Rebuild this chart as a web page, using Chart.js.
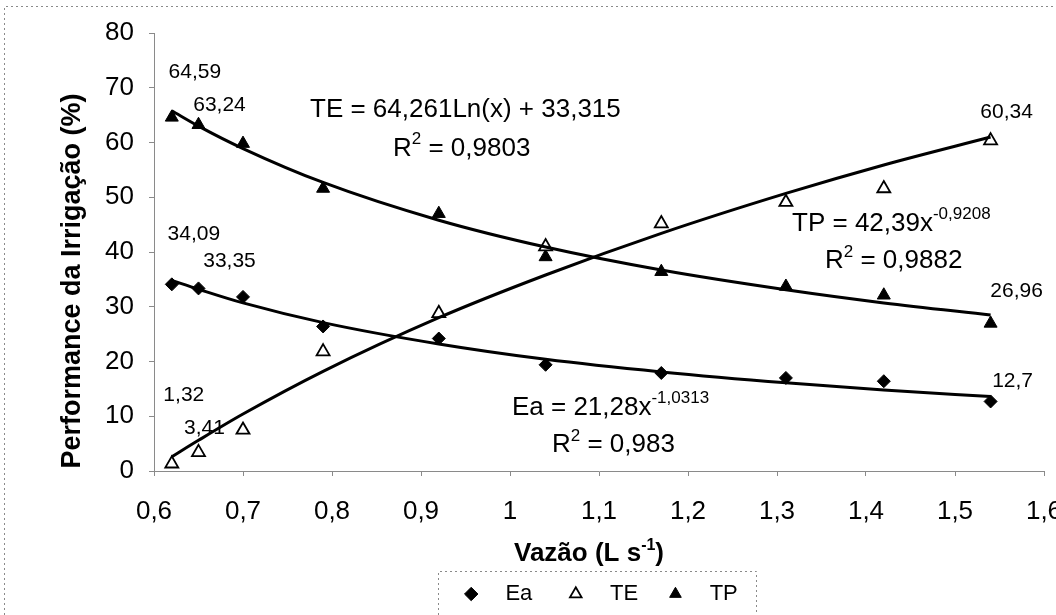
<!DOCTYPE html>
<html>
<head>
<meta charset="utf-8">
<script src="https://cdn.jsdelivr.net/npm/chart.js@4.4.1/dist/chart.umd.min.js"></script>
<style>
  html, body { margin: 0; padding: 0; background: #fff; }
  #wrap { width: 1056px; height: 615px; position: relative; }
</style>
</head>
<body>
<div id="wrap"><canvas id="myChart"></canvas></div>
<script>
const FONT = "'Liberation Sans', Arial, sans-serif";

// Vazão (L s-1)
const vazao = [0.62, 0.65, 0.70, 0.79, 0.92, 1.04, 1.17, 1.31, 1.42, 1.54];
// measured values (%)
const ea = [34.09, 33.35, 31.8, 26.4, 24.2, 19.4, 17.9, 17.0, 16.4, 12.7];
const te = [1.32, 3.41, 7.5, 21.8, 28.8, 41.0, 45.2, 49.1, 51.6, 60.34];
const tp = [64.59, 63.24, 59.8, 51.6, 47.0, 39.1, 36.4, 33.7, 32.1, 26.96];
// trend lines
const eaTrend = [34.8, 33.2, 30.7, 27.1, 23.2, 20.4, 18.1, 16.1, 14.8, 13.6];
const teTrend = [2.6, 5.6, 10.4, 18.2, 28.0, 35.8, 43.4, 50.7, 55.9, 61.0];
const tpTrend = [65.8, 63.0, 58.9, 52.7, 45.8, 40.9, 36.7, 33.1, 30.7, 28.5];

const xTicks = [0.6, 0.7, 0.8, 0.9, 1.0, 1.1, 1.2, 1.3, 1.4, 1.5, 1.6];
const xTickLabels = ['0,6', '0,7', '0,8', '0,9', '1', '1,1', '1,2', '1,3', '1,4', '1,5', '1,6'];
const yTicks = [0, 10, 20, 30, 40, 50, 60, 70, 80];
const yTickLabels = ['0', '10', '20', '30', '40', '50', '60', '70', '80'];

// point labels: series, index, text
const pointLabels = [
    ['TP', 0, '64,59'], ['TP', 1, '63,24'], ['TP', 9, '26,96'],
    ['Ea', 0, '34,09'], ['Ea', 1, '33,35'], ['Ea', 9, '12,7'],
    ['TE', 0, '1,32'], ['TE', 1, '3,41'], ['TE', 9, '60,34']
];
// offsets of each label centre from its point (px)
const labelOffsets = [[23, -45], [21, -20], [26, -32], [22, -50], [31, -27], [22, -20], [12, -69], [6, -24], [16, -28]];

// regression equations (text pieces, superscript flag)
const equations = [
    { parts: [['TE = 64,261Ln(x) + 33,315', false]], at: [0.7753, 66.4] },
    { parts: [['R', false], ['2', true], [' = 0,9803', false]], at: [0.8685, 59.3] },
    { parts: [['TP = 42,39x', false], ['-0,9208', true]], at: [1.3169, 45.6] },
    { parts: [['R', false], ['2', true], [' = 0,9882', false]], at: [1.3539, 38.7] },
    { parts: [['Ea = 21,28x', false], ['-1,0313', true]], at: [1.0022, 12.0] },
    { parts: [['R', false], ['2', true], [' = 0,983', false]], at: [1.0472, 5.1] }
];

function toPoints(ys) {
    return vazao.map((x, i) => ({ x: x, y: ys[i] }));
}

function drawRich(ctx, parts, x, baseY, size, supSize, align) {
    let total = 0;
    parts.forEach(p => {
        ctx.font = (p[1] ? supSize : size) + 'px ' + FONT;
        total += ctx.measureText(p[0]).width;
    });
    let cx = align === 'center' ? x - total / 2 : x;
    ctx.textAlign = 'left';
    ctx.textBaseline = 'alphabetic';
    parts.forEach(p => {
        ctx.font = (p[1] ? supSize : size) + 'px ' + FONT;
        ctx.fillText(p[0], cx, p[1] ? baseY - size * 0.43 : baseY);
        cx += ctx.measureText(p[0]).width;
    });
}

const decorPlugin = {
    id: 'decor',
    afterDatasetsDraw(chart) {
        const ctx = chart.ctx;
        const xs = chart.scales.x, ys = chart.scales.y;
        ctx.save();
        ctx.fillStyle = '#000';

        // point value labels
        ctx.font = '21px ' + FONT;
        ctx.textAlign = 'center';
        ctx.textBaseline = 'middle';
        pointLabels.forEach((lab, k) => {
            const dsIndex = chart.data.datasets.findIndex(d => d.label === lab[0]);
            const el = chart.getDatasetMeta(dsIndex).data[lab[1]];
            ctx.fillText(lab[2], el.x + labelOffsets[k][0], el.y + labelOffsets[k][1]);
        });

        // equations
        equations.forEach(eq => {
            const px = xs.getPixelForValue(eq.at[0]);
            const py = ys.getPixelForValue(eq.at[1]);
            drawRich(ctx, eq.parts, px, py + 9.3, 26, 17, 'left');
        });
        ctx.restore();
    },
    afterDraw(chart) {
        const ctx = chart.ctx;
        const area = chart.chartArea;
        ctx.save();
        ctx.fillStyle = '#000';

        // x axis title
        ctx.font = 'bold 26px ' + FONT;
        const xt = [['Vazão (L s', false], ['-1', true], [')', false]];
        let total = 0;
        xt.forEach(p => { ctx.font = 'bold ' + (p[1] ? 16 : 26) + 'px ' + FONT; total += ctx.measureText(p[0]).width; });
        let cx = (area.left + area.right) / 2 - 10 - total / 2;
        ctx.textAlign = 'left';
        ctx.textBaseline = 'alphabetic';
        xt.forEach(p => {
            ctx.font = 'bold ' + (p[1] ? 16 : 26) + 'px ' + FONT;
            ctx.fillText(p[0], cx, p[1] ? 550 : 561);
            cx += ctx.measureText(p[0]).width;
        });

        // y axis title
        ctx.save();
        ctx.translate(80, (area.top + area.bottom) / 2 + 29);
        ctx.rotate(-Math.PI / 2);
        ctx.font = 'bold 27px ' + FONT;
        ctx.textAlign = 'center';
        ctx.fillText('Performance da Irrigação (%)', 0, 0);
        ctx.restore();

        // dotted frames
        ctx.strokeStyle = '#8a8a8a';
        ctx.lineWidth = 1;
        ctx.setLineDash([2, 3]);
        const lg = chart.legend;
        const boxes = lg.legendHitBoxes;
        const l = Math.round(boxes[0].left - 22) + 0.5;
        const last = boxes[boxes.length - 1];
        const r = Math.round(last.left + last.width + 18) + 0.5;
        const t = Math.round(lg.top - 4) + 0.5;
        ctx.beginPath();
        ctx.moveTo(l, chart.height); ctx.lineTo(l, t); ctx.lineTo(r, t); ctx.lineTo(r, chart.height);
        ctx.moveTo(4.5, chart.height); ctx.lineTo(4.5, 6.5); ctx.lineTo(chart.width, 6.5);
        ctx.stroke();
        ctx.restore();
    }
};

const ctx = document.getElementById('myChart').getContext('2d');
const myChart = new Chart(ctx, {
    type: 'scatter',
    data: {
        datasets: [
            { type: 'line', label: 'EaTrend', data: toPoints(eaTrend), borderColor: '#000', borderWidth: 3,
              pointRadius: 0, fill: false, cubicInterpolationMode: 'monotone' },
            { type: 'line', label: 'TETrend', data: toPoints(teTrend), borderColor: '#000', borderWidth: 3,
              pointRadius: 0, fill: false, cubicInterpolationMode: 'monotone' },
            { type: 'line', label: 'TPTrend', data: toPoints(tpTrend), borderColor: '#000', borderWidth: 3,
              pointRadius: 0, fill: false, cubicInterpolationMode: 'monotone' },
            { label: 'Ea', data: toPoints(ea), pointStyle: 'rectRot', pointRadius: 6.5,
              backgroundColor: '#000', borderColor: '#000', borderWidth: 1 },
            { label: 'TE', data: toPoints(te), pointStyle: 'triangle', pointRadius: 7.5,
              backgroundColor: '#fff', borderColor: '#000', borderWidth: 1.8 },
            { label: 'TP', data: toPoints(tp), pointStyle: 'triangle', pointRadius: 7.5,
              backgroundColor: '#000', borderColor: '#000', borderWidth: 1 }
        ]
    },
    options: {
        responsive: true,
        maintainAspectRatio: false,
        animation: false,
        devicePixelRatio: 1,
        layout: { padding: { top: 33, right: 12, bottom: 0, left: 0 } },
        plugins: {
            tooltip: { enabled: false },
            legend: {
                position: 'bottom',
                fullSize: false,
                labels: {
                    usePointStyle: true,
                    boxHeight: 9.5,
                    padding: 8,
                    color: '#000',
                    font: { size: 22, family: FONT },
                    generateLabels(chart) {
                        // leading/trailing spaces give the spacing of the original legend
                        const texts = { Ea: '  Ea    ', TE: '  TE   ', TP: '  TP' };
                        return chart.data.datasets.map((d, i) => ({ d, i }))
                            .filter(o => texts[o.d.label])
                            .map(o => ({
                                text: texts[o.d.label],
                                fillStyle: o.d.backgroundColor,
                                strokeStyle: o.d.borderColor,
                                lineWidth: o.d.borderWidth,
                                pointStyle: o.d.pointStyle,
                                fontColor: '#000',
                                hidden: false,
                                datasetIndex: o.i
                            }));
                    }
                }
            }
        },
        scales: {
            x: {
                type: 'linear',
                min: 0.6,
                max: 1.6,
                afterBuildTicks: s => { s.ticks = xTicks.map(v => ({ value: v })); },
                afterFit: s => { s.height = 104; s.paddingLeft = 0; s.paddingRight = 0; },
                ticks: {
                    callback: (v, i) => xTickLabels[i],
                    color: '#000',
                    padding: 20,
                    maxRotation: 0,
                    autoSkip: false,
                    font: { size: 26, family: FONT }
                },
                grid: { drawOnChartArea: false, tickLength: 5, color: '#8a8a8a' },
                border: { color: '#8a8a8a', dash: [2, 2] }
            },
            y: {
                min: 0,
                max: 80,
                afterBuildTicks: s => { s.ticks = yTicks.map(v => ({ value: v })); },
                afterFit: s => { s.width = 154; },
                ticks: {
                    callback: (v, i) => yTickLabels[i],
                    color: '#000',
                    padding: 15,
                    font: { size: 26, family: FONT }
                },
                grid: { drawOnChartArea: false, tickLength: 5, color: '#8a8a8a' },
                border: { color: '#8a8a8a', dash: [2, 2] }
            }
        }
    },
    plugins: [decorPlugin]
});
</script>
</body>
</html>
